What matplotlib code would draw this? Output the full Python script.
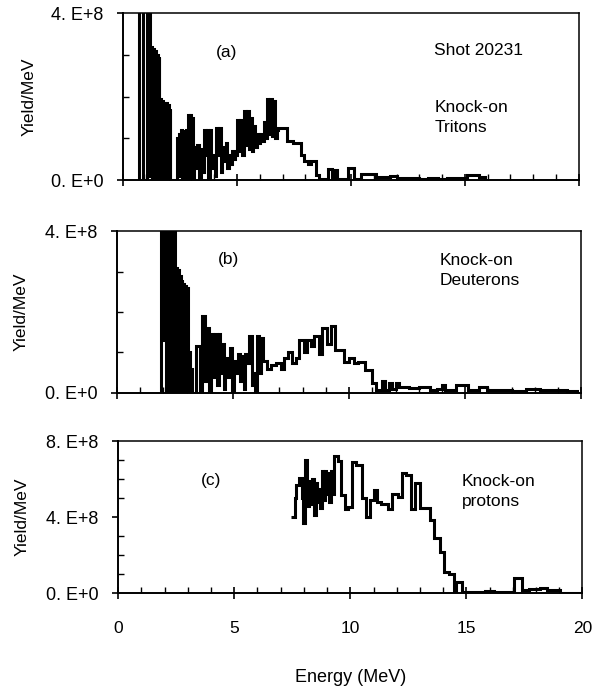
import numpy as np
import matplotlib.pyplot as plt
from matplotlib.ticker import MultipleLocator, FixedLocator

plt.rcParams['font.family'] = ['Liberation Sans', 'DejaVu Sans']

# spectra, yield per MeV in units of 1e8; edges are bin boundaries in MeV
tri_edges = [0.72, 0.86, 1.07, 1.19, 1.24, 1.28, 1.32, 1.36, 1.40, 1.44, 1.48,
             1.52, 1.56, 1.60, 1.64, 1.68, 1.72, 1.76, 1.80, 1.84, 1.88, 1.92,
             1.96, 2.00, 2.04, 2.08, 2.38, 2.42, 2.46, 2.50, 2.54, 2.58, 2.62,
             2.66, 2.70, 2.74, 2.78, 2.82, 2.86, 2.90, 2.94, 2.98, 3.02, 3.07,
             3.12, 3.20, 3.26, 3.35, 3.40, 3.48,
             3.55, 3.62, 3.68, 3.75, 3.80, 3.88, 3.95, 4.02, 4.08, 4.15, 4.22,
             4.30, 4.35, 4.42, 4.50, 4.58, 4.65, 4.72, 4.78, 4.85, 4.92, 5.00,
             5.08, 5.15, 5.22, 5.30, 5.38, 5.45, 5.52, 5.58, 5.65, 5.72, 5.80,
             5.88, 5.95, 6.02, 6.10, 6.18, 6.25, 6.32, 6.38, 6.45, 6.52, 6.60,
             6.66, 6.74, 6.80, 7.18, 7.45, 7.80, 7.95, 8.10, 8.25, 8.45, 8.60,
             9.00, 9.15, 9.25, 9.40, 9.85, 10.15, 10.45, 11.10, 11.70, 12.00,
             12.50, 13.00, 13.40, 13.80, 14.20, 14.60, 15.10, 15.60, 15.90]
tri_yield = [4.6, 0.0, 4.6, 0.1, 3.2, 0.0, 3.15, 0.2, 3.1, 0.0,
             3.0, 0.1, 2.95, 0.0, 1.95, 0.1, 1.9, 0.0, 1.85, 0.2, 1.85,
             0.0, 1.8, 0.1, 1.7, 0.0, 1.0, 0.1, 1.1, 0.3, 1.2, 0.0,
             1.15, 0.2, 1.2, 0.0, 1.2, 0.3, 1.55, 0.0, 1.55, 0.4, 1.5,
             0.0, 0.8, 0.3, 0.85, 0.05, 0.75,
             0.2, 1.2, 0.6, 1.2, 0.0, 1.2, 0.3, 0.6, 0.1, 1.25, 0.6,
             1.25, 0.2, 0.8, 0.45, 0.9, 0.3, 0.6, 0.4, 0.7, 0.5, 0.6,
             1.45, 0.7, 1.45, 0.6, 1.65, 0.85, 1.65, 0.75, 1.5, 0.7, 1.3,
             0.8, 1.1, 0.9, 1.1, 0.95, 1.4, 1.0, 1.95, 1.1, 1.95, 1.05,
             1.9, 1.0, 1.2, 1.25, 0.95, 0.9, 0.6, 0.45, 0.38, 0.45, 0.12,
             0.02, 0.27, 0.05, 0.25, 0.02, 0.3, 0.03, 0.16, 0.08, 0.1,
             0.05, 0.06, 0.03, 0.06, 0.04, 0.06, 0.05, 0.13, 0.08]

deu_edges = [1.90, 1.94, 1.98, 2.02, 2.06, 2.10, 2.14, 2.18, 2.22, 2.26, 2.30,
             2.34, 2.38, 2.42, 2.46, 2.50, 2.54, 2.58, 2.62, 2.66, 2.70, 2.74,
             2.78, 2.82, 2.86, 2.90, 2.94, 2.98, 3.02, 3.06, 3.10, 3.14, 3.20,
             3.25, 3.42, 3.58, 3.65, 3.80, 3.88, 3.95, 4.05,
             4.15, 4.22, 4.30, 4.38, 4.45, 4.52, 4.60, 4.65, 4.78, 4.87, 4.95,
             5.02, 5.12, 5.20, 5.30, 5.38, 5.45, 5.52, 5.60, 5.70, 5.80, 5.87,
             5.95, 6.02, 6.12, 6.20, 6.30, 6.45, 6.65, 6.85, 7.05, 7.20, 7.35,
             7.55, 7.70, 7.85, 8.05, 8.20, 8.35, 8.50, 8.70, 8.85, 9.05, 9.20,
             9.40, 9.80, 10.00, 10.20, 10.40, 10.70, 11.00, 11.15, 11.40, 11.55,
             11.70, 11.85, 12.00, 12.15, 12.60, 13.00, 13.50, 13.80, 14.00,
             14.15, 14.60, 15.10, 15.60, 15.95, 16.40, 17.00, 17.60, 18.20,
             18.80, 19.40, 19.80]
deu_yield = [4.6, 2.1, 4.6, 1.3, 4.6, 0.0, 4.6, 0.6, 4.6, 0.0,
             4.6, 0.1, 4.6, 0.0, 4.6, 0.2, 3.1, 0.0, 3.05, 0.1, 2.9,
             0.0, 2.8, 0.2, 2.7, 0.0, 2.65, 0.1, 2.6, 0.0, 1.0, 0.0,
             0.6, 0.0, 1.15, 0.0, 1.9, 0.3, 1.6, 0.0, 1.45,
             0.4, 1.45, 0.2, 1.45, 0.5, 1.2, 0.1, 0.85, 0.4, 1.1, 0.0,
             0.8, 0.5, 0.95, 0.3, 0.9, 0.1, 0.95, 0.75, 1.4, 0.2, 0.5,
             0.0, 1.4, 0.5, 1.35, 0.8, 0.6, 0.7, 0.75, 0.6, 0.85, 1.0,
             0.75, 0.85, 1.3, 1.0, 1.3, 1.15, 1.4, 0.95, 1.6, 1.2, 1.65,
             1.05, 0.77, 0.85, 0.73, 0.77, 0.57, 0.24, 0.08, 0.3,
             0.08, 0.25, 0.1, 0.25, 0.15, 0.12, 0.15, 0.08, 0.1,
             0.2, 0.06, 0.2, 0.08, 0.15, 0.06, 0.08, 0.05, 0.1,
             0.06, 0.08, 0.05]

pro_edges = [7.43, 7.60, 7.68, 7.80, 7.90, 7.96, 8.03, 8.15, 8.22, 8.30, 8.36,
             8.44, 8.50, 8.58, 8.64, 8.70, 8.76, 8.84, 8.90, 8.97, 9.03, 9.10,
             9.16, 9.24, 9.30, 9.45, 9.58, 9.75, 9.92, 10.08, 10.25, 10.50,
             10.66, 10.83, 11.00, 11.16, 11.33, 11.62, 11.80, 12.05, 12.23,
             12.38, 12.62, 12.77, 13.02, 13.45, 13.60, 13.85, 14.03, 14.24,
             14.46, 14.57, 14.81, 15.80, 16.20, 17.03, 17.39, 17.68, 18.18,
             18.47, 19.04, 20.00]
pro_yield = [4.0, 5.0, 5.7, 6.05, 5.0, 3.7, 7.0, 4.6, 5.9, 4.7, 6.0,
             4.1, 5.8, 4.8, 5.5, 4.5, 6.4, 4.9, 6.4, 5.2, 6.3, 4.8,
             6.4, 5.2, 7.2, 6.95, 5.15, 4.4, 4.55, 6.9, 6.72,
             4.98, 4.0, 4.9, 5.4, 4.8, 4.7, 4.4, 5.2, 5.05,
             6.3, 6.2, 4.42, 5.77, 4.5, 3.84, 2.88, 2.17, 1.12,
             1.0, 0.1, 0.6, 0.04, 0.1, 0.05, 0.8, 0.15, 0.2,
             0.25, 0.15, 0.02]

panels = [
    dict(rect=[0.204, 0.738, 0.756, 0.243], edges=tri_edges, vals=tri_yield, base=0,
         ymax=4, yticks=[0, 4], ylabels=['0. E+0', '4. E+8'], tag='(a)', tag_xy=(4.55, 3.05),
         note='Knock-on\nTritons', note_xy=(13.65, 1.5), xlab=False),
    dict(rect=[0.194, 0.429, 0.770, 0.235], edges=deu_edges, vals=deu_yield, base=0,
         ymax=4, yticks=[0, 4], ylabels=['0. E+0', '4. E+8'], tag='(b)', tag_xy=(4.8, 3.3),
         note='Knock-on\nDeuterons', note_xy=(13.9, 3.02), xlab=False),
    dict(rect=[0.196, 0.138, 0.770, 0.221], edges=pro_edges, vals=pro_yield, base=None,
         ymax=8, yticks=[0, 4, 8], ylabels=['0. E+0', '4. E+8', '8. E+8'], tag='(c)', tag_xy=(4.0, 5.9),
         note='Knock-on\nprotons', note_xy=(14.8, 5.35), xlab=True),
]

fig = plt.figure(figsize=(6.03, 6.88), dpi=100)

for p in panels:
    ax = fig.add_axes(p['rect'])
    ax.stairs(p['vals'], p['edges'], baseline=p['base'], color='black', linewidth=2.2)
    ax.set_xlim(0, 20)
    ax.set_ylim(0, p['ymax'])

    ax.xaxis.set_major_locator(FixedLocator([0, 5, 10, 15, 20]))
    ax.xaxis.set_minor_locator(MultipleLocator(1))
    ax.yaxis.set_major_locator(FixedLocator(p['yticks']))
    ax.yaxis.set_minor_locator(MultipleLocator(1))
    ax.set_yticklabels(p['ylabels'])

    ax.tick_params(axis='x', which='major', direction='inout', length=8, width=1.2,
                   labelsize=12.5, pad=16, labelbottom=p['xlab'])
    ax.tick_params(axis='x', which='minor', direction='in', length=4, width=1)
    ax.tick_params(axis='y', which='major', direction='out', length=4.5, width=1.2,
                   labelsize=13, pad=9.5)
    ax.tick_params(axis='y', which='minor', direction='in', length=4, width=1)

    for side in ['left', 'bottom']:
        ax.spines[side].set_linewidth(1.4)
    for side in ['top', 'right']:
        ax.spines[side].set_linewidth(1.1)

    ax.set_ylabel('Yield/MeV', fontsize=12.5)
    ax.yaxis.set_label_coords(-0.19, 0.5)

    ax.text(*p['tag_xy'], p['tag'], fontsize=12.5, ha='center', va='center')
    ax.text(*p['note_xy'], p['note'], fontsize=12.5, ha='left', va='center', linespacing=1.45)

    if p['tag'] == '(a)':
        ax.text(13.65, 3.1, 'Shot 20231', fontsize=12.5, ha='left', va='center')

ax.set_xlabel('Energy (MeV)', fontsize=13, labelpad=24)

fig.savefig('out.png', dpi=100)
